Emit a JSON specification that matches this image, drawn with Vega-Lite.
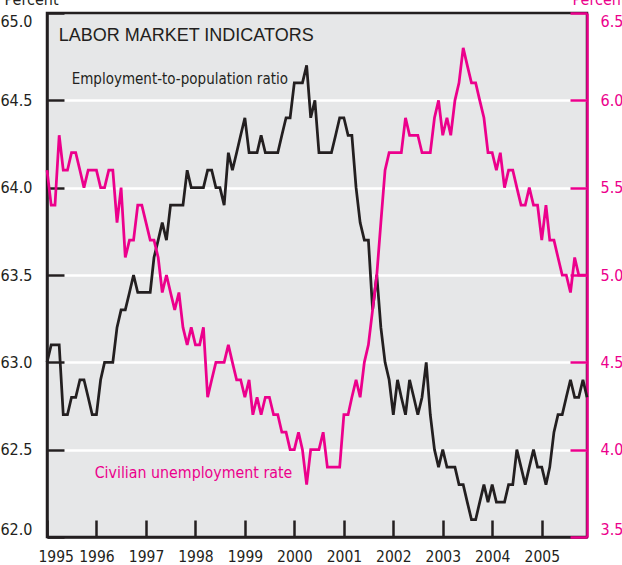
{
  "$schema": "https://vega.github.io/schema/vega-lite/v6.json",
  "width": 540,
  "height": 524,
  "autosize": {"type": "none"},
  "padding": {"left": 47, "top": 13, "right": 35, "bottom": 28},
  "background": "white",
  "config": {
    "view": {"fill": "#e6e7e8", "stroke": "#231f20", "strokeWidth": 2.5},
    "font": "DejaVu Sans Condensed",
    "axis": {"labelFont": "DejaVu Sans Condensed", "labelFontSize": 15.5, "titleFont": "DejaVu Sans Condensed", "titleFontSize": 16, "titleFontWeight": "normal"}
  },
  "datasets": {
    "epr": [
      {"date":"1995-01-01","value":63.0},{"date":"1995-02-01","value":63.1},{"date":"1995-03-01","value":63.1},{"date":"1995-04-01","value":63.1},{"date":"1995-05-01","value":62.7},{"date":"1995-06-01","value":62.7},{"date":"1995-07-01","value":62.8},{"date":"1995-08-01","value":62.8},{"date":"1995-09-01","value":62.9},{"date":"1995-10-01","value":62.9},{"date":"1995-11-01","value":62.8},{"date":"1995-12-01","value":62.7},
      {"date":"1996-01-01","value":62.7},{"date":"1996-02-01","value":62.9},{"date":"1996-03-01","value":63.0},{"date":"1996-04-01","value":63.0},{"date":"1996-05-01","value":63.0},{"date":"1996-06-01","value":63.2},{"date":"1996-07-01","value":63.3},{"date":"1996-08-01","value":63.3},{"date":"1996-09-01","value":63.4},{"date":"1996-10-01","value":63.5},{"date":"1996-11-01","value":63.4},{"date":"1996-12-01","value":63.4},
      {"date":"1997-01-01","value":63.4},{"date":"1997-02-01","value":63.4},{"date":"1997-03-01","value":63.6},{"date":"1997-04-01","value":63.7},{"date":"1997-05-01","value":63.8},{"date":"1997-06-01","value":63.7},{"date":"1997-07-01","value":63.9},{"date":"1997-08-01","value":63.9},{"date":"1997-09-01","value":63.9},{"date":"1997-10-01","value":63.9},{"date":"1997-11-01","value":64.1},{"date":"1997-12-01","value":64.0},
      {"date":"1998-01-01","value":64.0},{"date":"1998-02-01","value":64.0},{"date":"1998-03-01","value":64.0},{"date":"1998-04-01","value":64.1},{"date":"1998-05-01","value":64.1},{"date":"1998-06-01","value":64.0},{"date":"1998-07-01","value":64.0},{"date":"1998-08-01","value":63.9},{"date":"1998-09-01","value":64.2},{"date":"1998-10-01","value":64.1},{"date":"1998-11-01","value":64.2},{"date":"1998-12-01","value":64.3},
      {"date":"1999-01-01","value":64.4},{"date":"1999-02-01","value":64.2},{"date":"1999-03-01","value":64.2},{"date":"1999-04-01","value":64.2},{"date":"1999-05-01","value":64.3},{"date":"1999-06-01","value":64.2},{"date":"1999-07-01","value":64.2},{"date":"1999-08-01","value":64.2},{"date":"1999-09-01","value":64.2},{"date":"1999-10-01","value":64.3},{"date":"1999-11-01","value":64.4},{"date":"1999-12-01","value":64.4},
      {"date":"2000-01-01","value":64.6},{"date":"2000-02-01","value":64.6},{"date":"2000-03-01","value":64.6},{"date":"2000-04-01","value":64.7},{"date":"2000-05-01","value":64.4},{"date":"2000-06-01","value":64.5},{"date":"2000-07-01","value":64.2},{"date":"2000-08-01","value":64.2},{"date":"2000-09-01","value":64.2},{"date":"2000-10-01","value":64.2},{"date":"2000-11-01","value":64.3},{"date":"2000-12-01","value":64.4},
      {"date":"2001-01-01","value":64.4},{"date":"2001-02-01","value":64.3},{"date":"2001-03-01","value":64.3},{"date":"2001-04-01","value":64.0},{"date":"2001-05-01","value":63.8},{"date":"2001-06-01","value":63.7},{"date":"2001-07-01","value":63.7},{"date":"2001-08-01","value":63.3},{"date":"2001-09-01","value":63.5},{"date":"2001-10-01","value":63.2},{"date":"2001-11-01","value":63.0},{"date":"2001-12-01","value":62.9},
      {"date":"2002-01-01","value":62.7},{"date":"2002-02-01","value":62.9},{"date":"2002-03-01","value":62.8},{"date":"2002-04-01","value":62.7},{"date":"2002-05-01","value":62.9},{"date":"2002-06-01","value":62.8},{"date":"2002-07-01","value":62.7},{"date":"2002-08-01","value":62.8},{"date":"2002-09-01","value":63.0},{"date":"2002-10-01","value":62.7},{"date":"2002-11-01","value":62.5},{"date":"2002-12-01","value":62.4},
      {"date":"2003-01-01","value":62.5},{"date":"2003-02-01","value":62.4},{"date":"2003-03-01","value":62.4},{"date":"2003-04-01","value":62.4},{"date":"2003-05-01","value":62.3},{"date":"2003-06-01","value":62.3},{"date":"2003-07-01","value":62.2},{"date":"2003-08-01","value":62.1},{"date":"2003-09-01","value":62.1},{"date":"2003-10-01","value":62.2},{"date":"2003-11-01","value":62.3},{"date":"2003-12-01","value":62.2},
      {"date":"2004-01-01","value":62.3},{"date":"2004-02-01","value":62.2},{"date":"2004-03-01","value":62.2},{"date":"2004-04-01","value":62.2},{"date":"2004-05-01","value":62.3},{"date":"2004-06-01","value":62.3},{"date":"2004-07-01","value":62.5},{"date":"2004-08-01","value":62.4},{"date":"2004-09-01","value":62.3},{"date":"2004-10-01","value":62.4},{"date":"2004-11-01","value":62.5},{"date":"2004-12-01","value":62.4},
      {"date":"2005-01-01","value":62.4},{"date":"2005-02-01","value":62.3},{"date":"2005-03-01","value":62.4},{"date":"2005-04-01","value":62.6},{"date":"2005-05-01","value":62.7},{"date":"2005-06-01","value":62.7},{"date":"2005-07-01","value":62.8},{"date":"2005-08-01","value":62.9},{"date":"2005-09-01","value":62.8},{"date":"2005-10-01","value":62.8},{"date":"2005-11-01","value":62.9},{"date":"2005-12-01","value":62.8}
    ],
    "ur": [
      {"date":"1995-01-01","value":5.6},{"date":"1995-02-01","value":5.4},{"date":"1995-03-01","value":5.4},{"date":"1995-04-01","value":5.8},{"date":"1995-05-01","value":5.6},{"date":"1995-06-01","value":5.6},{"date":"1995-07-01","value":5.7},{"date":"1995-08-01","value":5.7},{"date":"1995-09-01","value":5.6},{"date":"1995-10-01","value":5.5},{"date":"1995-11-01","value":5.6},{"date":"1995-12-01","value":5.6},
      {"date":"1996-01-01","value":5.6},{"date":"1996-02-01","value":5.5},{"date":"1996-03-01","value":5.5},{"date":"1996-04-01","value":5.6},{"date":"1996-05-01","value":5.6},{"date":"1996-06-01","value":5.3},{"date":"1996-07-01","value":5.5},{"date":"1996-08-01","value":5.1},{"date":"1996-09-01","value":5.2},{"date":"1996-10-01","value":5.2},{"date":"1996-11-01","value":5.4},{"date":"1996-12-01","value":5.4},
      {"date":"1997-01-01","value":5.3},{"date":"1997-02-01","value":5.2},{"date":"1997-03-01","value":5.2},{"date":"1997-04-01","value":5.1},{"date":"1997-05-01","value":4.9},{"date":"1997-06-01","value":5.0},{"date":"1997-07-01","value":4.9},{"date":"1997-08-01","value":4.8},{"date":"1997-09-01","value":4.9},{"date":"1997-10-01","value":4.7},{"date":"1997-11-01","value":4.6},{"date":"1997-12-01","value":4.7},
      {"date":"1998-01-01","value":4.6},{"date":"1998-02-01","value":4.6},{"date":"1998-03-01","value":4.7},{"date":"1998-04-01","value":4.3},{"date":"1998-05-01","value":4.4},{"date":"1998-06-01","value":4.5},{"date":"1998-07-01","value":4.5},{"date":"1998-08-01","value":4.5},{"date":"1998-09-01","value":4.6},{"date":"1998-10-01","value":4.5},{"date":"1998-11-01","value":4.4},{"date":"1998-12-01","value":4.4},
      {"date":"1999-01-01","value":4.3},{"date":"1999-02-01","value":4.4},{"date":"1999-03-01","value":4.2},{"date":"1999-04-01","value":4.3},{"date":"1999-05-01","value":4.2},{"date":"1999-06-01","value":4.3},{"date":"1999-07-01","value":4.3},{"date":"1999-08-01","value":4.2},{"date":"1999-09-01","value":4.2},{"date":"1999-10-01","value":4.1},{"date":"1999-11-01","value":4.1},{"date":"1999-12-01","value":4.0},
      {"date":"2000-01-01","value":4.0},{"date":"2000-02-01","value":4.1},{"date":"2000-03-01","value":4.0},{"date":"2000-04-01","value":3.8},{"date":"2000-05-01","value":4.0},{"date":"2000-06-01","value":4.0},{"date":"2000-07-01","value":4.0},{"date":"2000-08-01","value":4.1},{"date":"2000-09-01","value":3.9},{"date":"2000-10-01","value":3.9},{"date":"2000-11-01","value":3.9},{"date":"2000-12-01","value":3.9},
      {"date":"2001-01-01","value":4.2},{"date":"2001-02-01","value":4.2},{"date":"2001-03-01","value":4.3},{"date":"2001-04-01","value":4.4},{"date":"2001-05-01","value":4.3},{"date":"2001-06-01","value":4.5},{"date":"2001-07-01","value":4.6},{"date":"2001-08-01","value":4.8},{"date":"2001-09-01","value":5.0},{"date":"2001-10-01","value":5.3},{"date":"2001-11-01","value":5.6},{"date":"2001-12-01","value":5.7},
      {"date":"2002-01-01","value":5.7},{"date":"2002-02-01","value":5.7},{"date":"2002-03-01","value":5.7},{"date":"2002-04-01","value":5.9},{"date":"2002-05-01","value":5.8},{"date":"2002-06-01","value":5.8},{"date":"2002-07-01","value":5.8},{"date":"2002-08-01","value":5.7},{"date":"2002-09-01","value":5.7},{"date":"2002-10-01","value":5.7},{"date":"2002-11-01","value":5.9},{"date":"2002-12-01","value":6.0},
      {"date":"2003-01-01","value":5.8},{"date":"2003-02-01","value":5.9},{"date":"2003-03-01","value":5.8},{"date":"2003-04-01","value":6.0},{"date":"2003-05-01","value":6.1},{"date":"2003-06-01","value":6.3},{"date":"2003-07-01","value":6.2},{"date":"2003-08-01","value":6.1},{"date":"2003-09-01","value":6.1},{"date":"2003-10-01","value":6.0},{"date":"2003-11-01","value":5.9},{"date":"2003-12-01","value":5.7},
      {"date":"2004-01-01","value":5.7},{"date":"2004-02-01","value":5.6},{"date":"2004-03-01","value":5.7},{"date":"2004-04-01","value":5.5},{"date":"2004-05-01","value":5.6},{"date":"2004-06-01","value":5.6},{"date":"2004-07-01","value":5.5},{"date":"2004-08-01","value":5.4},{"date":"2004-09-01","value":5.4},{"date":"2004-10-01","value":5.5},{"date":"2004-11-01","value":5.4},{"date":"2004-12-01","value":5.4},
      {"date":"2005-01-01","value":5.2},{"date":"2005-02-01","value":5.4},{"date":"2005-03-01","value":5.2},{"date":"2005-04-01","value":5.2},{"date":"2005-05-01","value":5.1},{"date":"2005-06-01","value":5.0},{"date":"2005-07-01","value":5.0},{"date":"2005-08-01","value":4.9},{"date":"2005-09-01","value":5.1},{"date":"2005-10-01","value":5.0},{"date":"2005-11-01","value":5.0},{"date":"2005-12-01","value":5.0}
    ]
  },
  "layer": [
    {
      "layer": [
        {
          "data": {"name": "epr"},
          "mark": {"type": "line", "color": "#231f20", "strokeWidth": 2.75, "strokeJoin": "miter"},
          "encoding": {
            "x": {
              "field": "date", "type": "temporal", "title": null,
              "scale": {"type": "utc", "domain": [{"year": 1995, "month": 1, "date": 1, "utc": true}, {"year": 2005, "month": 12, "date": 1, "utc": true}]},
              "axis": {
                "values": [{"year":1995,"utc":true},{"year":1996,"utc":true},{"year":1997,"utc":true},{"year":1998,"utc":true},{"year":1999,"utc":true},{"year":2000,"utc":true},{"year":2001,"utc":true},{"year":2002,"utc":true},{"year":2003,"utc":true},{"year":2004,"utc":true},{"year":2005,"utc":true}],
                "format": "%Y", "formatType": "utc",
                "domainColor": "#231f20", "domainWidth": 2.5,
                "tickColor": "#231f20", "tickWidth": 2.5, "tickSize": -17,
                "labelPadding": 29, "labelColor": "#231f20",
                "labelFlush": true, "labelFlushOffset": 9, "grid": false
              }
            },
            "y": {
              "field": "value", "type": "quantitative", "title": "Percent",
              "scale": {"domain": [62, 65], "nice": false, "zero": false},
              "axis": {
                "orient": "left", "values": [62, 62.5, 63, 63.5, 64, 64.5, 65], "format": ".1f",
                "labelFontSize": 16,
                "domainColor": "#231f20", "domainWidth": 2.5,
                "tickColor": "#231f20", "tickWidth": 2.5, "tickSize": -17,
                "labelPadding": 32, "labelColor": "#231f20", "labelFlush": true,
                "grid": true, "gridWidth": 2.5,
                "gridColor": {"condition": {"test": "datum.value === 62 || datum.value === 65", "value": "transparent"}, "value": "white"},
                "titleAngle": 0, "titleAlign": "left", "titleBaseline": "alphabetic",
                "titleX": -43, "titleY": -9, "titleColor": "#231f20"
              }
            }
          }
        },
        {
          "data": {"values": [{"date": "1995-07-02", "value": 64.596, "label": "Employment-to-population ratio"}]},
          "mark": {"type": "text", "align": "left", "baseline": "alphabetic", "fontSize": 15, "font": "DejaVu Sans Condensed", "color": "#231f20"},
          "encoding": {
            "x": {"field": "date", "type": "temporal", "title": null},
            "y": {"field": "value", "type": "quantitative", "title": "Percent"},
            "text": {"field": "label"}
          }
        },
        {
          "data": {"values": [{"date": "1995-03-28", "value": 64.842, "label": "LABOR MARKET INDICATORS"}]},
          "mark": {"type": "text", "align": "left", "baseline": "alphabetic", "fontSize": 18, "font": "Liberation Sans", "color": "#231f20"},
          "encoding": {
            "x": {"field": "date", "type": "temporal", "title": null},
            "y": {"field": "value", "type": "quantitative", "title": "Percent"},
            "text": {"field": "label"}
          }
        }
      ]
    },
    {
      "layer": [
        {
          "data": {"name": "ur"},
          "mark": {"type": "line", "color": "#ec008c", "strokeWidth": 2.75, "strokeJoin": "miter"},
          "encoding": {
            "x": {"field": "date", "type": "temporal", "title": null},
            "y": {
              "field": "value", "type": "quantitative", "title": "Percent",
              "scale": {"domain": [3.5, 6.5], "nice": false, "zero": false},
              "axis": {
                "orient": "right", "values": [3.5, 4, 4.5, 5, 5.5, 6, 6.5], "format": ".1f",
                "labelFontSize": 16,
                "domainColor": "#ec008c", "domainWidth": 2.5,
                "tickColor": "#ec008c", "tickWidth": 2.5, "tickSize": -17,
                "labelPadding": 30, "labelColor": "#ec008c", "labelFlush": true,
                "grid": false,
                "titleAngle": 0, "titleAlign": "left", "titleBaseline": "alphabetic",
                "titleX": -15, "titleY": -9, "titleColor": "#ec008c"
              }
            }
          }
        },
        {
          "data": {"values": [{"date": "1995-12-19", "value": 3.835, "label": "Civilian unemployment rate"}]},
          "mark": {"type": "text", "align": "left", "baseline": "alphabetic", "fontSize": 15.8, "font": "DejaVu Sans Condensed", "color": "#ec008c"},
          "encoding": {
            "x": {"field": "date", "type": "temporal", "title": null},
            "y": {"field": "value", "type": "quantitative", "title": "Percent"},
            "text": {"field": "label"}
          }
        }
      ]
    }
  ],
  "resolve": {"scale": {"y": "independent"}}
}
